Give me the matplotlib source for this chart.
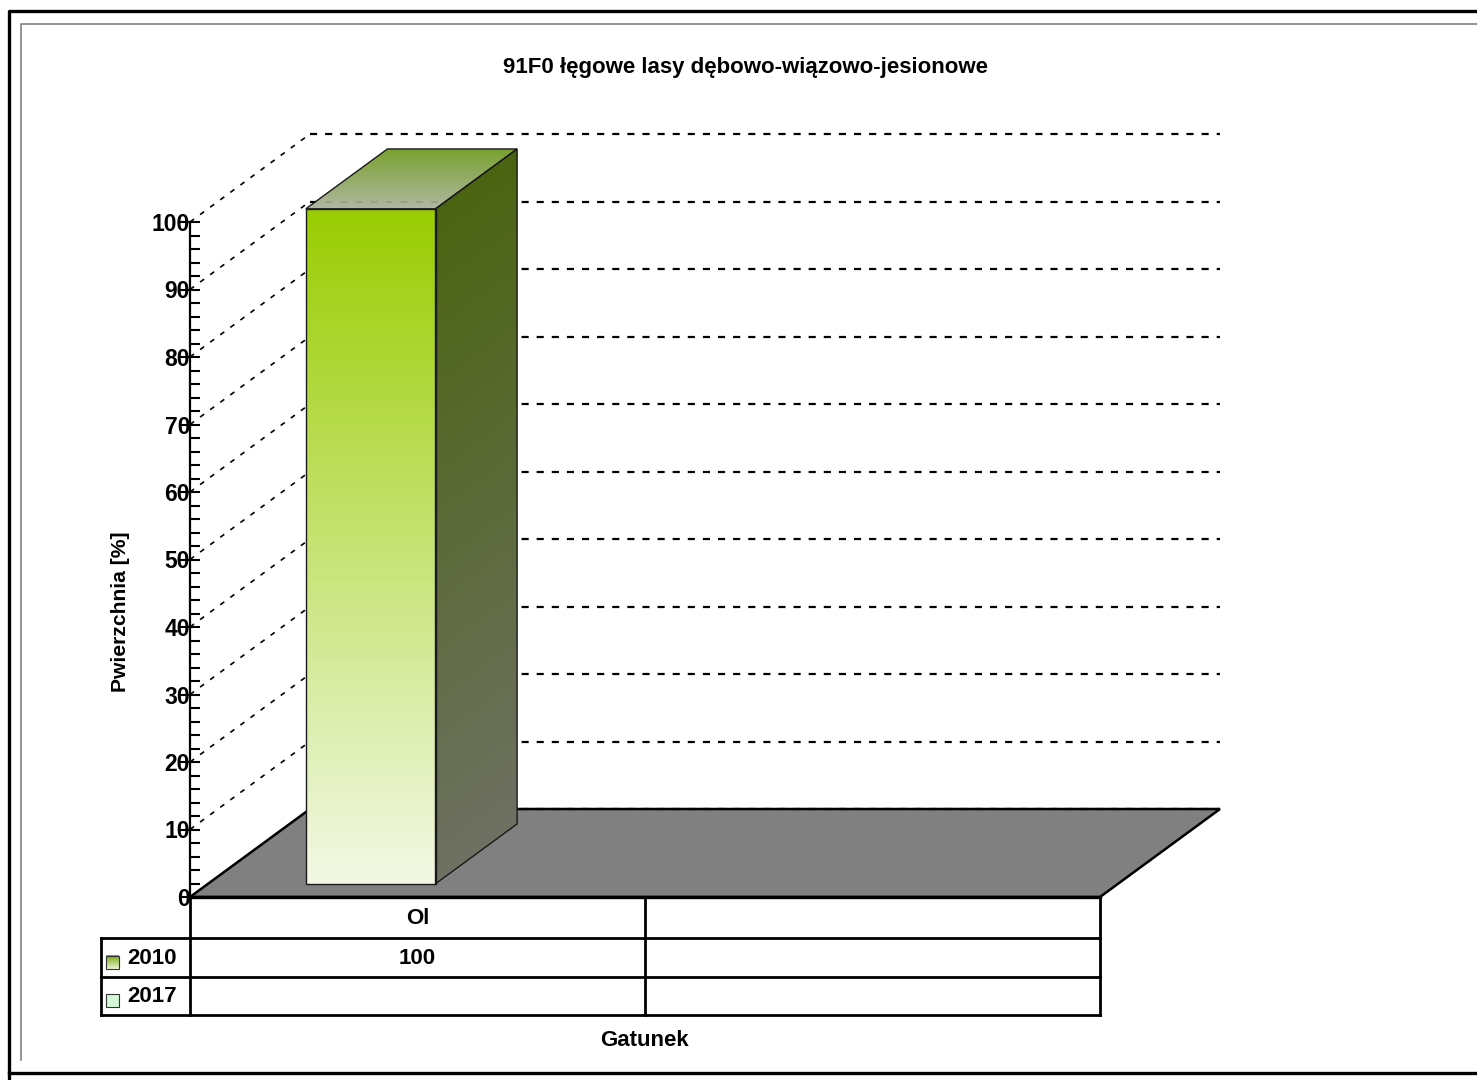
import numpy as np
import matplotlib
matplotlib.use('Agg')
import matplotlib.pyplot as plt
from matplotlib.patches import Polygon, Rectangle
from matplotlib.lines import Line2D
from matplotlib.transforms import IdentityTransform, blended_transform_factory
from matplotlib.colors import to_rgb

plt.rcParams['font.family'] = ['Liberation Sans', 'DejaVu Sans']
plt.rcParams['font.weight'] = 'bold'

# Data
title = '91F0 łęgowe lasy dębowo-wiązowo-jesionowe'
categories = ['Ol', '']
series = ['2010', '2017']
values = {'2010': [100, None], '2017': [None, None]}
y_ticks = np.arange(0, 101, 10)

W, H = 1477, 1080
fig = plt.figure(figsize=(W / 100, H / 100), dpi=100)

# front plane of the 3d box (pixels) and depth offset of the back wall
x_left, x_right = 190, 1100
y_bottom, y_top = 897, 222
DX, DY = 120, 88

ax = fig.add_axes([x_left / W, 1 - y_bottom / H, (x_right - x_left) / W, (y_bottom - y_top) / H])
ax.set_xlim(0, len(categories))
ax.set_ylim(0, 100)
ax.set_autoscale_on(False)
ax.patch.set_visible(False)
for s in ['top', 'right', 'bottom']:
    ax.spines[s].set_visible(False)
ax.spines['left'].set_linewidth(1.6)
ax.set_xticks([])
ax.set_yticks(y_ticks)
ax.set_yticks(np.arange(0, 101, 2), minor=True)
ax.tick_params(axis='y', which='major', direction='inout', length=14, width=1.5, labelsize=16.5, pad=-7)
ax.tick_params(axis='y', which='minor', direction='in', length=7, width=1.5)

idt = IdentityTransform()


def px(x, v, d=0.0):
    # data point on depth d (0 = front, 1 = back wall) -> display pixels
    p = ax.transData.transform((x, v))
    return (p[0] + DX * d, p[1] + DY * d)


def mix(c1, c2, t):
    a, b = np.array(to_rgb(c1)), np.array(to_rgb(c2))
    return tuple(a + (b - a) * t)


def poly(pts, **kw):
    p = Polygon(pts, closed=True, transform=idt, clip_on=False, **kw)
    ax.add_patch(p)
    return p


ncat = len(categories)

# floor
floor = [px(0, 0, 0), px(ncat, 0, 0), px(ncat, 0, 1), px(0, 0, 1)]
poly(floor, facecolor='#808080', edgecolor='black', lw=1.8, zorder=1)

# back wall gridlines and diagonal lines on the side wall
dash = (0, (3.2, 3.6))
for v in y_ticks:
    a, b = px(0, v, 1), px(ncat, v, 1)
    ax.add_line(Line2D([a[0], b[0]], [a[1], b[1]], transform=idt, color='black',
                       lw=1.6, ls=dash, clip_on=False, zorder=2))
    if v > 0:
        c = px(0, v, 0)
        ax.add_line(Line2D([c[0], a[0]], [c[1], a[1]], transform=idt, color='black',
                           lw=1.2, ls=(0, (3, 4.5)), clip_on=False, zorder=2))

# floor front edge
ax.add_line(Line2D([0, ncat], [0, 0], color='black', lw=2.4, clip_on=False, zorder=3))

# bars
gap, bw = 0.215, 0.285
d0, d1 = 0.15, 0.83
N = 120
for j, s in enumerate(series):
    for i, v in enumerate(values[s]):
        if not v:
            continue
        x0 = i + gap + j * bw
        x1 = x0 + bw
        # front face, gradient from light bottom to green top
        for k in range(N):
            va, vb = v * k / N, min(v, v * (k + 1.6) / N)
            poly([px(x0, va, d0), px(x1, va, d0), px(x1, vb, d0), px(x0, vb, d0)],
                 facecolor=mix('#f2f8e4', '#99cc00', k / N), lw=0, zorder=4)
        # side face
        for k in range(N):
            va, vb = v * k / N, min(v, v * (k + 1.6) / N)
            poly([px(x1, va, d0), px(x1, va, d1), px(x1, vb, d1), px(x1, vb, d0)],
                 facecolor=mix('#6e7062', '#4a6410', k / N), lw=0, zorder=4)
        # top face, gradient along depth
        for k in range(N):
            da = d0 + (d1 - d0) * k / N
            db = min(d1, d0 + (d1 - d0) * (k + 1.6) / N)
            poly([px(x0, v, da), px(x1, v, da), px(x1, v, db), px(x0, v, db)],
                 facecolor=mix('#aab39a', '#6e9a1e', k / N), lw=0, zorder=4)
        # outlines
        ek = dict(facecolor='none', edgecolor='#1a1a1a', lw=1.0, zorder=5)
        poly([px(x0, 0, d0), px(x1, 0, d0), px(x1, v, d0), px(x0, v, d0)], **ek)
        poly([px(x1, 0, d0), px(x1, 0, d1), px(x1, v, d1), px(x1, v, d0)], **ek)
        poly([px(x0, v, d0), px(x1, v, d0), px(x1, v, d1), px(x0, v, d1)], **ek)

# data table under the chart (x in category units, y in pixels)
tt = blended_transform_factory(ax.transData, idt)
row_y = [H - 897, H - 938, H - 977, H - 1015]
x_leg = -0.196
tl = dict(transform=tt, color='black', lw=2.0, clip_on=False, zorder=6)
for y in row_y[1:]:
    ax.add_line(Line2D([x_leg, ncat], [y, y], **tl))
for x in range(ncat + 1):
    ax.add_line(Line2D([x, x], [row_y[0], row_y[-1]], **tl))
ax.add_line(Line2D([x_leg, x_leg], [row_y[1], row_y[-1]], **tl))

fs = 16
for i, c in enumerate(categories):
    ax.text(i + 0.5, (row_y[0] + row_y[1]) / 2 - 1, c, transform=tt, ha='center', va='center', fontsize=fs)
for j, s in enumerate(series):
    ymid = (row_y[j + 1] + row_y[j + 2]) / 2 - 1
    for i, v in enumerate(values[s]):
        if v is not None:
            ax.text(i + 0.5, ymid, f'{v:g}', transform=tt, ha='center', va='center', fontsize=fs)
    ax.text(x_leg + 0.058, ymid, s, transform=tt, ha='left', va='center', fontsize=fs)

# legend keys in the table
key_x, key_s = 106, 13
k1 = H - 969
for k in range(20):
    fig.patches.append(Rectangle((key_x, k1 + key_s * k / 20), key_s, key_s / 20 + 0.6, transform=idt,
                                 facecolor=mix('#e8f2d0', '#7aaa10', k / 20), lw=0))
fig.patches.append(Rectangle((key_x, k1), key_s, key_s, transform=idt, fill=False, edgecolor='#333333', lw=0.8))
k2 = H - 1007
fig.patches.append(Rectangle((key_x, k2), key_s, key_s, transform=idt, facecolor='#d4f8d4',
                             edgecolor='#333333', lw=0.8))

# titles
fig.text(746 / W, 1 - 67 / H, title, ha='center', va='center', fontsize=fs)
fig.text(644 / W, 1 - 1041 / H, 'Gatunek', ha='center', va='center', fontsize=fs)
fig.text(120 / W, 1 - 612 / H, 'Pwierzchnia [%]', ha='center', va='center', rotation=90, fontsize=15.2)

# chart frame
fig.lines.append(Line2D([9, 9, W + 5], [-5, H - 11, H - 11], transform=idt, color='black', lw=2.4))
fig.lines.append(Line2D([9, W + 5], [H - 1073, H - 1073], transform=idt, color='black', lw=2.4))
fig.lines.append(Line2D([20.5, 20.5, W + 5], [H - 1060, H - 23.5, H - 23.5], transform=idt, color='#808080', lw=1.2))

fig.savefig('out.png', dpi=100)
